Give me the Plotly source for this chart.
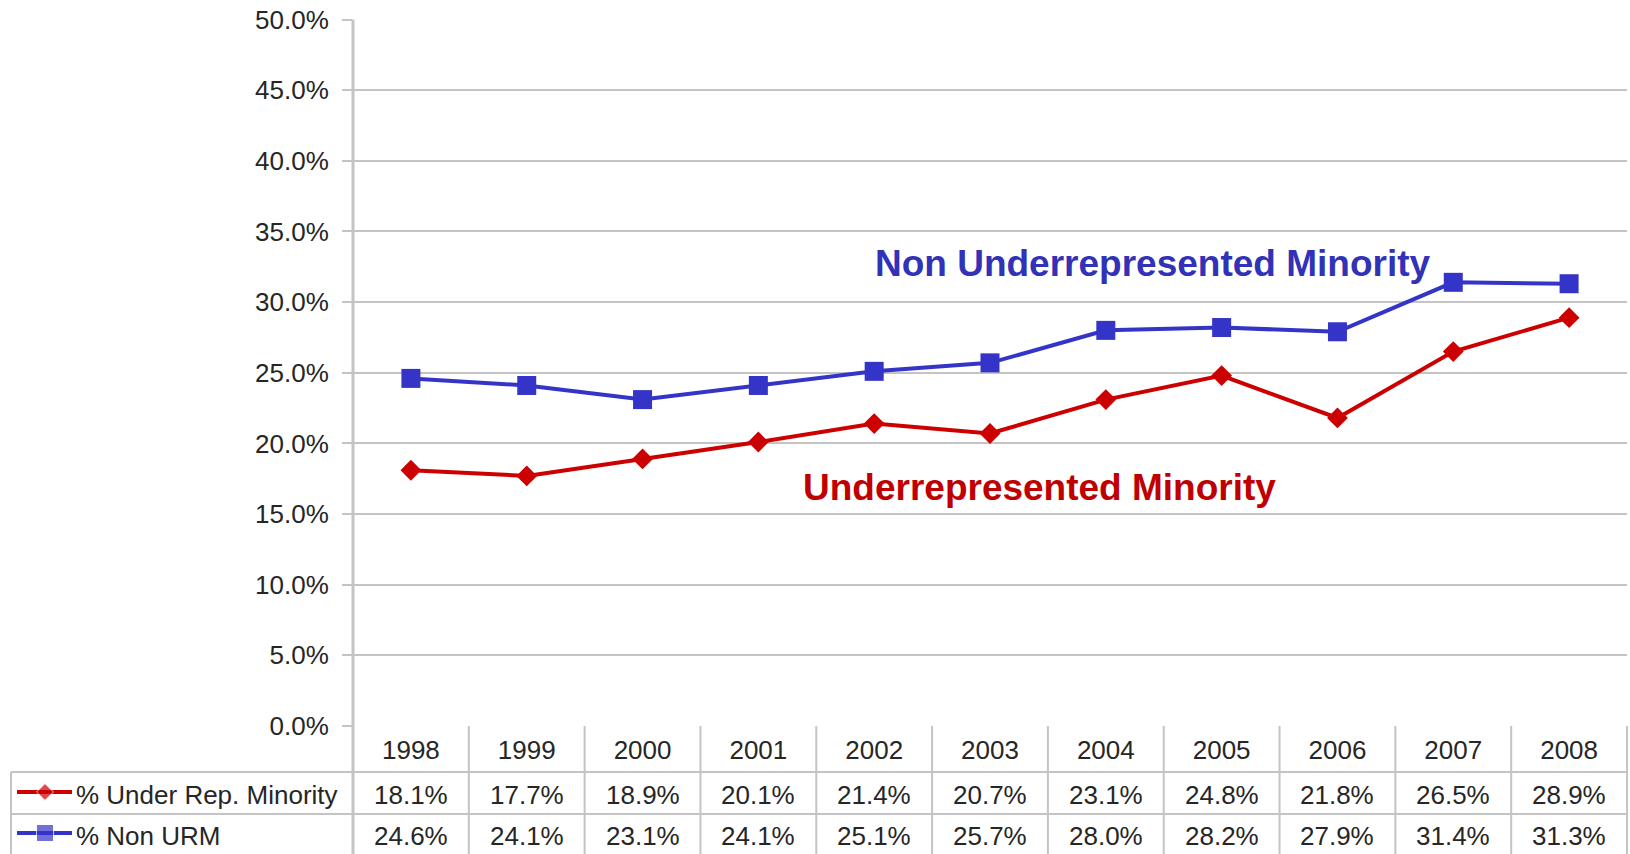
import plotly.graph_objects as go

# ---------------- data ----------------
years = [1998, 1999, 2000, 2001, 2002, 2003, 2004, 2005, 2006, 2007, 2008]
urm = [18.1, 17.7, 18.9, 20.1, 21.4, 20.7, 23.1, 24.8, 21.8, 26.5, 28.9]
non_urm = [24.6, 24.1, 23.1, 24.1, 25.1, 25.7, 28.0, 28.2, 27.9, 31.4, 31.3]
row_labels = ["% Under Rep. Minority", "% Non URM"]
y_ticks = [0, 5, 10, 15, 20, 25, 30, 35, 40, 45, 50]

# ---------------- layout constants ----------------
W, H = 1630, 854
FONT = "Liberation Sans, Arial, sans-serif"
RED = "#CC0000"
BLUE = "#3434C8"
GRID = "#C4C4C4"
BORDER = "#C4C4C4"
TXT = "#262626"

px_left, px_right = 353, 1627          # plot area x (pixels)
px_top, px_bottom = 19.5, 726          # plot area y (pixels from top)
row_edges_px = [726, 772, 814, 854]     # table row boundaries (from top)
table_left_px = 11

def fx(px):
    return px / W

def fy(py):
    return (H - py) / H

x_dom = [fx(px_left), fx(px_right)]
y_dom = [fy(px_bottom), fy(px_top)]
ncol = len(years)

def col_edge(k):
    return x_dom[0] + k * (x_dom[1] - x_dom[0]) / ncol

fig = go.Figure()

fig.add_trace(go.Scatter(
    x=years, y=urm, mode="lines+markers", name=row_labels[0],
    line=dict(color=RED, width=4),
    marker=dict(symbol="diamond", size=16, color=RED),
    showlegend=False, cliponaxis=False))
fig.add_trace(go.Scatter(
    x=years, y=non_urm, mode="lines+markers", name=row_labels[1],
    line=dict(color=BLUE, width=4),
    marker=dict(symbol="square", size=19, color=BLUE),
    showlegend=False, cliponaxis=False))

# legend swatches inside the table label column (helper axes in pixel units)
row_centers_px = [(row_edges_px[i] + row_edges_px[i + 1]) / 2 for i in range(3)]
sw_x = [17, 45, 72]
for lab, col, sym, sz, rc in [(row_labels[0], RED, "diamond", 13, row_centers_px[1] - 1),
                              (row_labels[1], BLUE, "square", 17, row_centers_px[2] - 1)]:
    yy = H - rc
    fig.add_trace(go.Scatter(
        x=sw_x, y=[yy] * 3, mode="lines+markers",
        line=dict(color=col, width=4),
        marker=dict(symbol=sym, size=[0, sz, 0], color=col),
        xaxis="x2", yaxis="y2", showlegend=False, hoverinfo="skip", cliponaxis=False))

shapes = []
# vertical column lines in the table
for k in range(ncol + 1):
    shapes.append(dict(type="line", xref="paper", yref="paper",
                       x0=col_edge(k), x1=col_edge(k),
                       y0=0, y1=fy(row_edges_px[0]) if k > 0 else y_dom[1],
                       line=dict(color=BORDER, width=2 if k > 0 else 3)))
# horizontal table lines
for e in row_edges_px[1:3]:
    shapes.append(dict(type="line", xref="paper", yref="paper",
                       x0=fx(table_left_px), x1=x_dom[1], y0=fy(e), y1=fy(e),
                       line=dict(color=BORDER, width=2)))
# left border of the label column
shapes.append(dict(type="line", xref="paper", yref="paper",
                   x0=fx(table_left_px), x1=fx(table_left_px),
                   y0=0, y1=fy(row_edges_px[1]),
                   line=dict(color=BORDER, width=2)))

annotations = []
# table cell values
for series, rc in [(urm, row_centers_px[1] + 2), (non_urm, row_centers_px[2] + 2)]:
    for yr, v in zip(years, series):
        annotations.append(dict(x=yr, xref="x", y=fy(rc), yref="paper",
                                text=f"{v:.1f}%", showarrow=False,
                                font=dict(family=FONT, size=26, color=TXT),
                                xanchor="center", yanchor="middle"))
# row labels
for lab, rc in zip(row_labels, row_centers_px[1:]):
    annotations.append(dict(x=fx(74), xref="paper", y=fy(rc + 2), yref="paper",
                            text=lab, showarrow=False,
                            font=dict(family=FONT, size=26, color=TXT),
                            xanchor="left", yanchor="middle"))
# series captions
annotations.append(dict(x=2004.4, y=32.7, xref="x", yref="y",
                        text="<b>Non Underrepresented Minority</b>", showarrow=False,
                        font=dict(family=FONT, size=37, color="#3232B8"),
                        xanchor="center", yanchor="middle"))
annotations.append(dict(x=2003.43, y=16.9, xref="x", yref="y",
                        text="<b>Underrepresented Minority</b>", showarrow=False,
                        font=dict(family=FONT, size=37, color="#C00000"),
                        xanchor="center", yanchor="middle"))

fig.update_layout(
    width=W, height=H, autosize=False,
    margin=dict(l=0, r=0, t=0, b=0, pad=0, autoexpand=False),
    paper_bgcolor="white", plot_bgcolor="white",
    font=dict(family=FONT, size=26, color=TXT),
    showlegend=False,
    xaxis=dict(domain=x_dom, range=[years[0] - 0.5, years[-1] + 0.5],
               tickvals=years, ticktext=[str(y) for y in years],
               showgrid=False, zeroline=False, showline=False, automargin=False,
               ticks="", ticklabelstandoff=6,
               tickfont=dict(family=FONT, size=26, color=TXT)),
    yaxis=dict(domain=y_dom, range=[0, 50], tickvals=y_ticks,
               ticktext=[f"{v:.1f}%" for v in y_ticks],
               showgrid=True, gridcolor=GRID, gridwidth=2, automargin=False,
               zeroline=False, showline=False,
               ticks="outside", ticklen=10, tickcolor=GRID, tickwidth=2,
               ticklabelstandoff=8,
               tickfont=dict(family=FONT, size=26, color=TXT)),
    xaxis2=dict(domain=[0, fx(px_left)], range=[0, px_left], visible=False,
                automargin=False, anchor="y2"),
    yaxis2=dict(domain=[0, fy(row_edges_px[0])], range=[0, H - row_edges_px[0]],
                visible=False, automargin=False, anchor="x2"),
    shapes=shapes,
    annotations=annotations,
)

fig.write_html(
    "out.html",
    config={"displayModeBar": False},
    post_script="document.body.style.margin='0';document.body.style.padding='0';"
                "document.body.style.overflow='hidden';",
)
